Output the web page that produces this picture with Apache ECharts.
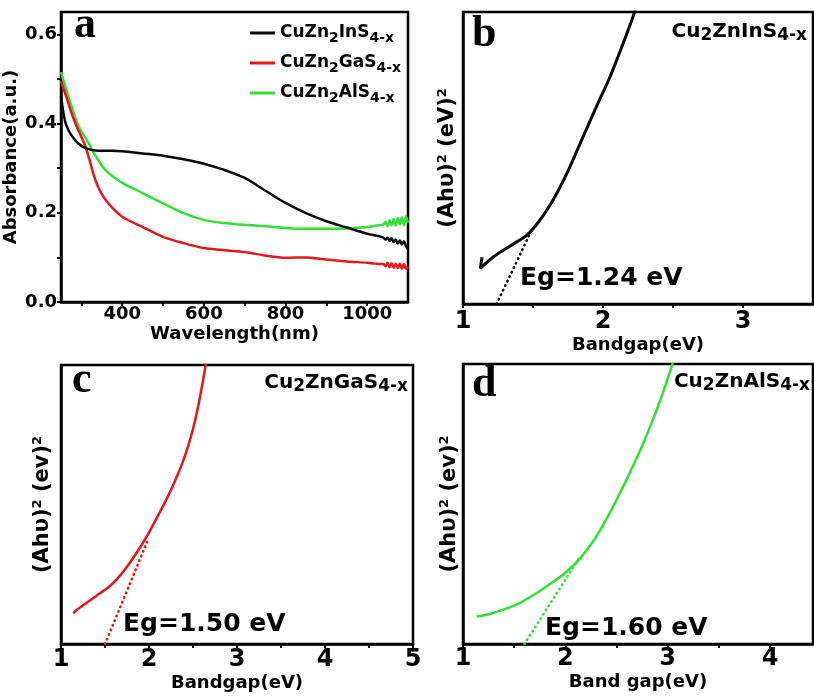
<!DOCTYPE html>
<html>
<head>
<meta charset="utf-8">
<script src="https://cdn.jsdelivr.net/npm/echarts@6/dist/echarts.min.js"></script>
<style>
  html, body { margin: 0; padding: 0; background: #fff; }
  #chart { width: 814px; height: 696px; }
</style>
</head>
<body>
<div id="chart"></div>
<script>
// ---- Panel a: absorbance spectra ----
const wavelength = [250, 260, 270, 280, 290, 300, 310, 320, 330, 340, 350, 360, 375, 400, 450, 500, 550, 600, 650, 700, 750, 800, 850, 900, 950, 1000, 1010, 1020, 1030, 1040, 1045, 1050, 1055, 1060, 1065, 1070, 1075, 1080, 1085, 1090, 1095, 1100];
const absIn = [0.462, 0.405, 0.382, 0.368, 0.357, 0.350, 0.345, 0.342, 0.340, 0.339, 0.339, 0.339, 0.339, 0.338, 0.333, 0.328, 0.320, 0.310, 0.296, 0.278, 0.250, 0.222, 0.199, 0.181, 0.167, 0.153, 0.151, 0.149, 0.147, 0.144, 0.140, 0.144, 0.137, 0.143, 0.134, 0.140, 0.131, 0.138, 0.129, 0.136, 0.125, 0.118];
const absGa = [0.495, 0.468, 0.440, 0.413, 0.390, 0.370, 0.348, 0.318, 0.285, 0.260, 0.242, 0.228, 0.212, 0.191, 0.168, 0.146, 0.132, 0.121, 0.116, 0.112, 0.104, 0.099, 0.100, 0.095, 0.091, 0.088, 0.087, 0.086, 0.085, 0.085, 0.080, 0.088, 0.078, 0.087, 0.077, 0.086, 0.076, 0.086, 0.075, 0.085, 0.074, 0.080];
const absAl = [0.515, 0.485, 0.455, 0.428, 0.400, 0.382, 0.368, 0.352, 0.334, 0.320, 0.306, 0.295, 0.283, 0.267, 0.244, 0.221, 0.199, 0.184, 0.177, 0.173, 0.170, 0.166, 0.164, 0.164, 0.165, 0.168, 0.169, 0.171, 0.172, 0.174, 0.180, 0.170, 0.183, 0.172, 0.186, 0.172, 0.188, 0.174, 0.190, 0.172, 0.192, 0.178];
const spectraNames = ['CuZn2InS4-x', 'CuZn2GaS4-x', 'CuZn2AlS4-x'];
const wavelengthTicks = [300, 400, 500, 600, 700, 800, 900, 1000];
const wavelengthLabels = [400, 600, 800, 1000];
const absorbTicks = [0, 0.1, 0.2, 0.3, 0.4, 0.5, 0.6];
const absorbLabels = [0, 0.2, 0.4, 0.6];

// ---- Panels b-d: Tauc plots ----
const bandgapB = [1.136, 1.124, 1.218, 1.337, 1.455, 1.538, 1.621, 1.691, 1.762, 1.833, 1.904, 1.975, 2.046, 2.117, 2.176, 2.223, 2.26];
const signalB  = [16.0, 12.2, 16.2, 19.9, 23.5, 28.0, 33.8, 39.8, 46.8, 54.6, 62.3, 69.9, 77.3, 85.9, 93.3, 99.6, 105];
const bandgapC = [1.14, 1.178, 1.292, 1.443, 1.557, 1.670, 1.784, 1.898, 1.992, 2.088, 2.201, 2.295, 2.390, 2.466, 2.523, 2.580, 2.636, 2.66];
const signalC  = [11.0, 12.2, 14.8, 18.2, 20.8, 24.5, 29.2, 34.6, 39.5, 45.2, 52.0, 58.4, 65.8, 73.2, 80.0, 88.6, 98.5, 104];
const bandgapD = [1.134, 1.280, 1.443, 1.557, 1.720, 1.883, 2.013, 2.144, 2.274, 2.355, 2.437, 2.535, 2.632, 2.730, 2.828, 2.909, 2.975, 3.040, 3.07];
const signalD  = [9.8, 10.9, 12.9, 14.7, 18.2, 22.2, 25.8, 30.6, 36.8, 41.6, 47.0, 54.0, 61.3, 69.0, 77.6, 85.2, 92.0, 99.2, 102.7];
const compounds = ['Cu2ZnInS4-x', 'Cu2ZnGaS4-x', 'Cu2ZnAlS4-x'];
const egValues = [1.24, 1.50, 1.60];
const tangentEndX = [1.50, 1.99, 2.14];
const tangentEndY = [26.3, 37.5, 31.0];
const bandgapTicksB = [1, 1.5, 2, 2.5, 3];
const bandgapLabelsB = [1, 2, 3];
const bandgapTicksC = [1, 1.5, 2, 2.5, 3, 3.5, 4, 4.5, 5];
const bandgapLabelsC = [1, 2, 3, 4, 5];
const bandgapTicksD = [1, 1.5, 2, 2.5, 3, 3.5, 4];
const bandgapLabelsD = [1, 2, 3, 4];

const SANS = 'DejaVu Sans';
const SERIF = 'Liberation Serif';
const COLORS = ['#0a0a0a', '#e3171c', '#35de35'];

// digits (and "-x") after an element symbol become subscripts
const toRich = s => s.replace(/(\d(?:-x)?)/g, '{s|$1}');
const pairs = (xs, ys) => xs.map((x, i) => [x, ys[i]]);

const chart = echarts.init(document.getElementById('chart'), null, { renderer: 'canvas' });

const gridBase = { show: true, borderColor: '#000', borderWidth: 2.5, backgroundColor: 'transparent' };
const grids = [
  Object.assign({ left: 61, top: 12, width: 347, height: 290 }, gridBase),
  Object.assign({ left: 463, top: 12, width: 350, height: 292 }, gridBase),
  Object.assign({ left: 61, top: 365, width: 352, height: 279 }, gridBase),
  Object.assign({ left: 463, top: 364, width: 350, height: 280 }, gridBase)
];

function xAxisFor(gi, min, max, ticks, labels, name, nameGap, labelSize, labelMargin) {
  return {
    gridIndex: gi, type: 'value', min, max,
    name, nameLocation: 'middle', nameGap,
    nameTextStyle: { fontFamily: SANS, fontWeight: 'bold', fontSize: 18, lineHeight: 20, color: '#000' },
    axisLine: { show: true, onZero: false, lineStyle: { color: '#000', width: 2.5 } },
    axisTick: { show: true, inside: false, length: 4, customValues: ticks, lineStyle: { color: '#000', width: 2 } },
    axisLabel: { show: true, customValues: labels, margin: labelMargin, fontFamily: SANS, fontWeight: 'bold', fontSize: labelSize, color: '#000', formatter: v => String(v) },
    splitLine: { show: false }
  };
}

const supRich = {
  sup: { fontFamily: SANS, fontWeight: 'bold', fontSize: 13, lineHeight: 13, verticalAlign: 'top', color: '#000' }
};
function taucYAxis(gi, name, nameGap) {
  return {
    gridIndex: gi, type: 'value', min: 0, max: 100,
    name, nameLocation: 'middle', nameGap,
    nameTextStyle: { fontFamily: SANS, fontWeight: 'bold', fontSize: 21, lineHeight: 24, color: '#000', rich: supRich },
    axisLine: { show: true, onZero: false, lineStyle: { color: '#000', width: 2.5 } },
    axisTick: { show: false }, axisLabel: { show: false }, splitLine: { show: false }
  };
}

const xAxes = [
  xAxisFor(0, 250, 1100, wavelengthTicks, wavelengthLabels, 'Wavelength(nm)', 22, 18, 3),
  xAxisFor(1, 1, 3.5, bandgapTicksB, bandgapLabelsB, 'Bandgap(eV)', 31, 24, 6),
  xAxisFor(2, 1, 5, bandgapTicksC, bandgapLabelsC, 'Bandgap(eV)', 25, 24, 4),
  xAxisFor(3, 1, 4.42, bandgapTicksD, bandgapLabelsD, 'Band gap(eV)', 17, 24, 3)
];

const yAxes = [
  {
    gridIndex: 0, type: 'value', min: 0, max: 0.65,
    name: 'Absorbance(a.u.)', nameLocation: 'middle', nameGap: 31,
    nameTextStyle: { fontFamily: SANS, fontWeight: 'bold', fontSize: 18, lineHeight: 20, color: '#000' },
    axisLine: { show: true, onZero: false, lineStyle: { color: '#000', width: 2.5 } },
    axisTick: { show: true, inside: false, length: 4, customValues: absorbTicks, lineStyle: { color: '#000', width: 2 } },
    axisLabel: { show: true, customValues: absorbLabels, margin: 4, fontFamily: SANS, fontWeight: 'bold', fontSize: 18, color: '#000', formatter: v => v.toFixed(1) },
    splitLine: { show: false }
  },
  taucYAxis(1, '(Ahυ){sup|2} (eV){sup|2}', 3),
  taucYAxis(2, '(Ahυ){sup|2} (ev){sup|2}', 6),
  taucYAxis(3, '(Ahυ){sup|2} (ev){sup|2}', 1)
];

const spectra = [absIn, absGa, absAl];
const series = spectra.map((vals, i) => ({
  name: spectraNames[i], type: 'line', xAxisIndex: 0, yAxisIndex: 0,
  data: pairs(wavelength, vals), symbol: 'none', smooth: 0.3,
  lineStyle: { color: COLORS[i], width: 2.5 }, itemStyle: { color: COLORS[i] },
  z: 3 - i
}));

const taucX = [bandgapB, bandgapC, bandgapD];
const taucY = [signalB, signalC, signalD];
const taucWidth = [3, 2.5, 2.5];
for (let k = 0; k < 3; k++) {
  const color = COLORS[k];
  series.push({
    type: 'line', xAxisIndex: k + 1, yAxisIndex: k + 1,
    data: pairs(taucX[k], taucY[k]), symbol: 'none', smooth: 0.3,
    lineStyle: { color, width: taucWidth[k] }, itemStyle: { color }
  });
  // tangent extrapolated to the energy axis at Eg
  series.push({
    type: 'line', xAxisIndex: k + 1, yAxisIndex: k + 1,
    data: [[egValues[k], 0], [tangentEndX[k], tangentEndY[k]]], symbol: 'none',
    lineStyle: { color, width: 2.6, type: [0.5, 4.5], cap: 'round' }, itemStyle: { color }
  });
}

const legend = {
  left: 250, top: 21, orient: 'vertical', padding: 0,
  itemWidth: 25, itemHeight: 3, itemGap: 6, icon: 'rect',
  data: spectraNames,
  formatter: name => toRich(name),
  textStyle: {
    fontFamily: SANS, fontWeight: 'bold', fontSize: 17, lineHeight: 24, color: '#000',
    rich: { s: { fontFamily: SANS, fontWeight: 'bold', fontSize: 14, lineHeight: 14, verticalAlign: 'bottom', color: '#000' } }
  }
};

// panel letters, compound titles and band-gap labels
const letterFont = `bold 44px "${SERIF}"`;
const titleRich = {
  s: { font: `bold 17px "${SANS}"`, fontFamily: SANS, fontWeight: 'bold', fontSize: 17, lineHeight: 15, verticalAlign: 'bottom', fill: '#000' }
};
const panelLetters = ['a', 'b', 'c', 'd'];
const letterPos = [[74, 26], [472, 35], [72, 381], [472, 385]];
const titlePos = [[807, 20], [408, 371], [810, 370]];
const egPos = [[520, 278], [123, 624], [545, 628]];

const graphic = [];
panelLetters.forEach((t, i) => graphic.push({
  type: 'text', x: letterPos[i][0], y: letterPos[i][1], z: 10,
  style: { text: t, font: letterFont, fill: '#000', align: 'left', verticalAlign: 'middle', textAlign: 'left', textVerticalAlign: 'middle' }
}));
compounds.forEach((c, i) => graphic.push({
  type: 'text', x: titlePos[i][0], y: titlePos[i][1], z: 10,
  style: { text: toRich(c), font: `bold 20px "${SANS}"`, lineHeight: 24, fill: '#000', align: 'right', verticalAlign: 'top', textAlign: 'right', textVerticalAlign: 'top', rich: titleRich }
}));
egValues.forEach((eg, i) => graphic.push({
  type: 'text', x: egPos[i][0], y: egPos[i][1], z: 10,
  style: { text: 'Eg=' + eg.toFixed(2) + ' eV', font: `bold 25px "${SANS}"`, fill: '#000', align: 'left', verticalAlign: 'middle', textAlign: 'left', textVerticalAlign: 'middle' }
}));

chart.setOption({
  backgroundColor: '#fff',
  animation: false,
  grid: grids,
  xAxis: xAxes,
  yAxis: yAxes,
  legend,
  series,
  graphic
});
</script>
</body>
</html>
